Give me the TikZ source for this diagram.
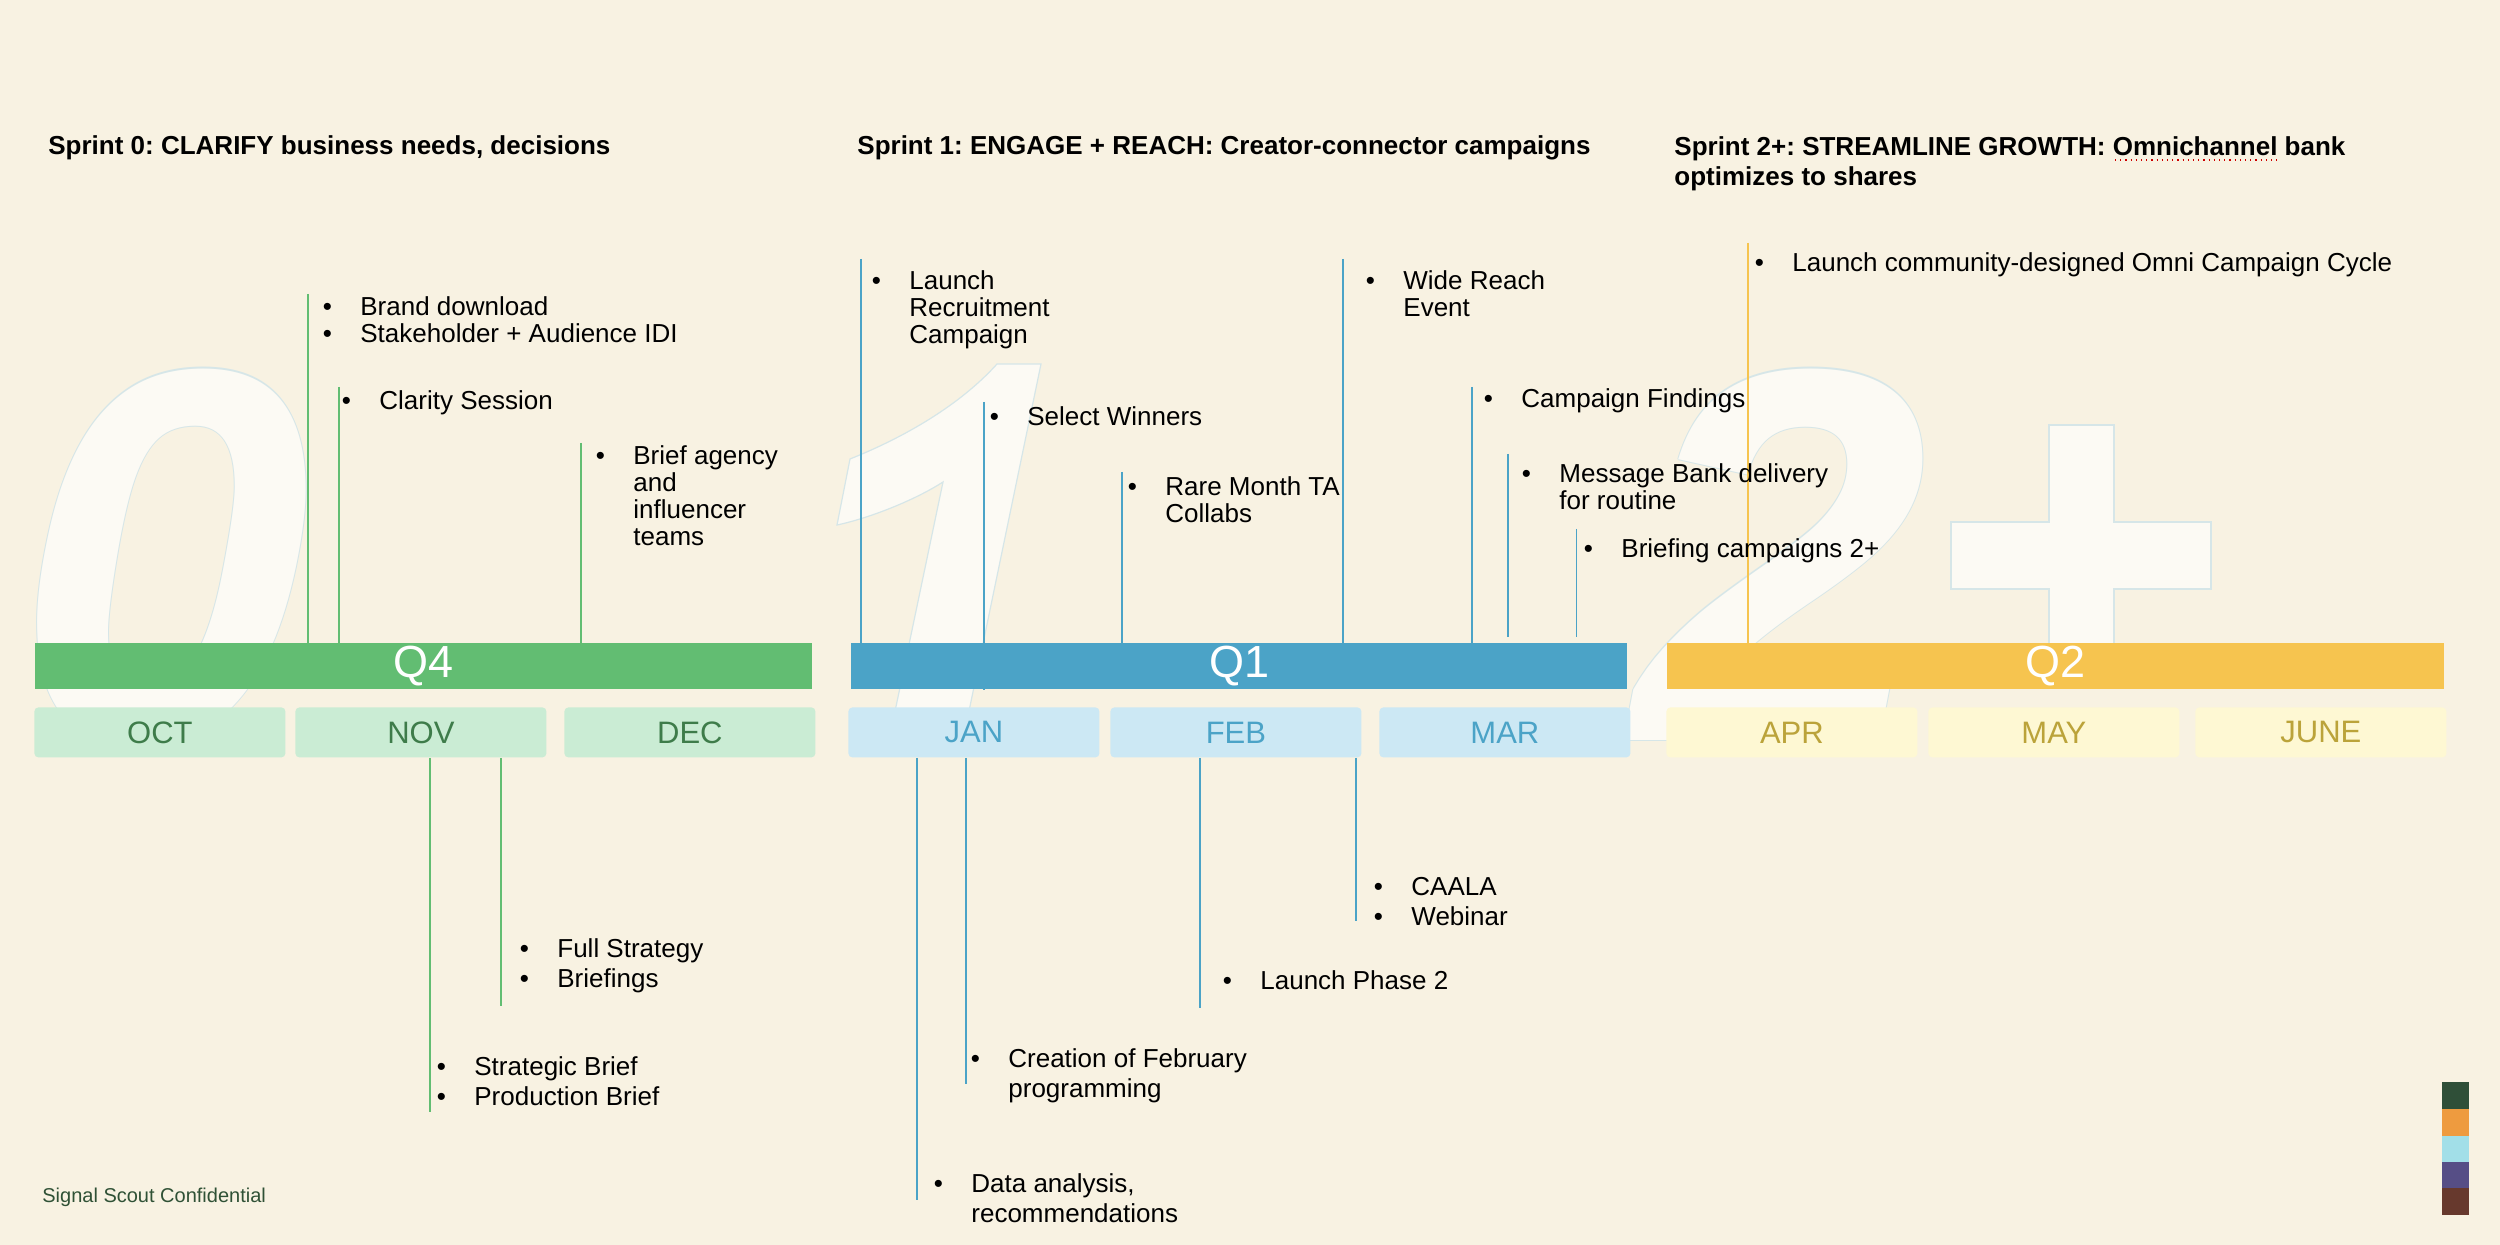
\documentclass[tikz,border=0pt]{standalone}
\usepackage{fontspec}
\setmainfont{Liberation Sans}
\newfontfamily\digitfont{Liberation Sans}
\frenchspacing
\definecolor{bgc}{HTML}{F8F2E2}
\definecolor{q4c}{HTML}{62BD72}
\definecolor{q1c}{HTML}{4BA3C7}
\definecolor{q2c}{HTML}{F6C44F}
\definecolor{m4c}{HTML}{CAECD4}
\definecolor{m4t}{HTML}{3E7C4A}
\definecolor{m1c}{HTML}{CCE8F4}
\definecolor{m1t}{HTML}{4BA3C7}
\definecolor{m2c}{HTML}{FEF8D3}
\definecolor{m2t}{HTML}{BBA33A}
\definecolor{digfill}{HTML}{FCFAF4}
\definecolor{digedge}{HTML}{D6E6E8}
\definecolor{confc}{HTML}{2F5135}
\definecolor{sqa}{HTML}{2F4F38}
\definecolor{sqb}{HTML}{EE9B3F}
\definecolor{sqc}{HTML}{A2DFE8}
\definecolor{sqd}{HTML}{564E86}
\definecolor{sqe}{HTML}{67392D}
\newcommand{\bul}{\llap{\makebox[0pt][c]{•}\hspace{16.5pt}}}
\newcommand{\lines}[1]{\begin{tabular}[t]{@{}l@{}}#1\end{tabular}}
\begin{document}
\begin{tikzpicture}[x=0.5pt,y=-0.5pt,
  qbar/.style={fill=#1, draw=none, text=white, inner sep=0, anchor=north west,
    minimum height=23pt, font=\fontsize{22.5pt}{26pt}\selectfont},
  mbox/.style={fill=#1, draw=none, rounded corners=2pt, inner sep=0, anchor=north west,
    minimum width=125.5pt, minimum height=25pt, font=\fontsize{15.5pt}{18pt}\selectfont},
  conn/.style={draw=#1, line width=0.9pt},
  txt/.style={inner sep=0, anchor=base west, font=\fontsize{13pt}{13.3pt}\selectfont},
  txtlow/.style={inner sep=0, anchor=base west, font=\fontsize{13pt}{15pt}\selectfont},
  ttl/.style={inner sep=0, anchor=base west, font=\bfseries\fontsize{13pt}{15pt}\selectfont},
  digit/.style={inner sep=0, anchor=base west, font=\digitfont\bfseries\itshape\fontsize{266pt}{266pt}\selectfont},
  bigshape/.style={fill=digfill, draw=digedge, line width=0.6pt}]
\useasboundingbox (0,0) rectangle (2500,1245);
\fill[bgc] (0,0) rectangle (2500,1245);

% big background numerals
\foreach \dx/\dy in {1.3/0,-1.3/0,0/1.3,0/-1.3}{
  \node[digit, text=digedge] at (15+\dx,740+\dy) {0};
  \node[digit, text=digedge] at (1632+\dx,740+\dy) {2};
}
\node[digit, text=digfill] (dig0) at (15,740) {0};
\node[digit, text=digfill] (dig2) at (1632,740) {2};
% the "1"
\path[bigshape] (997,364) -- (1041,364) -- (963,740) -- (889,740) -- (943,482)
  .. controls (915,500) and (870,518) .. (837,525) -- (850,459)
  .. controls (905,437) and (960,405) .. cycle;
% the "+"
\path[bigshape]
  (2049,425) -- (2114,425) -- (2114,522) -- (2211,522) -- (2211,589) -- (2114,589)
  -- (2114,660) -- (2049,660) -- (2049,589) -- (1951,589) -- (1951,522) -- (2049,522) -- cycle;

% quarter bars
\node[qbar=q4c, minimum width=388.5pt] (q4) at (35,643) {Q4};
\node[qbar=q1c, minimum width=388pt] (q1) at (851,643) {Q1};
\node[qbar=q2c, minimum width=388.5pt] (q2) at (1667,643) {Q2};

% month boxes
\node[mbox=m4c, text=m4t] (oct) at (34,707) {OCT};
\node[mbox=m4c, text=m4t] (nov) at (295,707) {NOV};
\node[mbox=m4c, text=m4t] (dec) at (564,707) {DEC};
\node[mbox=m1c, text=m1t] (jan) at (848,707) {JAN};
\node[mbox=m1c, text=m1t] (feb) at (1110,707) {FEB};
\node[mbox=m1c, text=m1t] (mar) at (1379,707) {MAR};
\node[mbox=m2c, text=m2t] (apr) at (1666,707) {APR};
\node[mbox=m2c, text=m2t] (may) at (1928,707) {MAY};
\node[mbox=m2c, text=m2t] (jun) at (2195,707) {JUNE};

% upper connectors
\coordinate (u1) at (308,294);
\coordinate (u2) at (339,387);
\coordinate (u3) at (581,443);
\coordinate (u4) at (861,259);
\coordinate (u5) at (984,402);
\coordinate (u6) at (1122,472);
\coordinate (u7) at (1343,259);
\coordinate (u8) at (1472,387);
\coordinate (u9) at (1508,454);
\coordinate (u10) at (1576.5,529);
\coordinate (u11) at (1748,243);
\draw[conn=q4c] (u1) -- (u1 |- q4.north);
\draw[conn=q4c] (u2) -- (u2 |- q4.north);
\draw[conn=q4c] (u3) -- (u3 |- q4.north);
\draw[conn=q1c] (u4) -- (u4 |- q1.north);
\draw[conn=q1c] (u5) -- (u5 |- q1.south);
\draw[conn=q1c] (u6) -- (u6 |- q1.north);
\draw[conn=q1c] (u7) -- (u7 |- q1.north);
\draw[conn=q1c] (u8) -- (u8 |- q1.north);
\draw[conn=q1c] (u9) -- ([yshift=3pt]u9 |- q1.north);
\draw[conn=q1c] (u10) -- ([yshift=3pt]u10 |- q1.north);
\draw[conn=q2c] (u11) -- (u11 |- q2.north);

% lower connectors
\coordinate (d1) at (430,1112);
\coordinate (d2) at (501,1006);
\coordinate (d3) at (917,1200);
\coordinate (d4) at (966,1084);
\coordinate (d5) at (1200,1008);
\coordinate (d6) at (1356,921);
\draw[conn=q4c] (d1 |- nov.south) -- (d1);
\draw[conn=q4c] (d2 |- nov.south) -- (d2);
\draw[conn=q1c] (d3 |- jan.south) -- (d3);
\draw[conn=q1c] (d4 |- jan.south) -- (d4);
\draw[conn=q1c] (d5 |- feb.south) -- (d5);
\draw[conn=q1c] (d6 |- feb.south) -- (d6);

% titles
\node[ttl] (t0) at (48,155) {Sprint 0: CLARIFY business needs, decisions};
\node[ttl] (t1) at (857,155) {Sprint 1: ENGAGE + REACH: Creator-connector campaigns};
\node[ttl] (t2) at (1674,156) {\lines{Sprint 2+: STREAMLINE GROWTH: Omnichannel bank\\optimizes to shares}};
\draw[red!80!black, line width=0.6pt, dotted] (2115,160) -- (2280,160);

% upper texts
\node[txt] (a1) at (360,316) {\lines{\bul Brand download\\\bul Stakeholder + Audience IDI}};
\node[txt] (a2) at (379,410) {\bul Clarity Session};
\node[txt] (a3) at (633,465) {\lines{\bul Brief agency\\and\\influencer\\teams}};
\node[txt] (b1) at (909,290) {\lines{\bul Launch\\Recruitment\\Campaign}};
\node[txt] (b2) at (1027,426) {\bul Select Winners};
\node[txt] (b3) at (1165,496) {\lines{\bul Rare Month TA\\Collabs}};
\node[txt] (b4) at (1403,290) {\lines{\bul Wide Reach\\Event}};
\node[txt] (b5) at (1521,408) {\bul Campaign Findings};
\node[txt] (b6) at (1559,483) {\lines{\bul Message Bank delivery\\for routine}};
\node[txt] (b7) at (1621,558) {\bul Briefing campaigns 2+};
\node[txt] (c1) at (1792,272) {\bul Launch community-designed Omni Campaign Cycle};

% lower texts
\node[txtlow] (e1) at (557,957) {\lines{\bul Full Strategy\\\bul Briefings}};
\node[txtlow] (e2) at (474,1075) {\lines{\bul Strategic Brief\\\bul Production Brief}};
\node[txtlow] (e3) at (1008,1067) {\lines{\bul Creation of February\\programming}};
\node[txtlow] (e4) at (971,1192) {\lines{\bul Data analysis,\\recommendations}};
\node[txtlow] (e5) at (1260,989) {\bul Launch Phase 2};
\node[txtlow] (e6) at (1411,895) {\lines{\bul CAALA\\\bul Webinar}};

% footer
\node[inner sep=0, anchor=base west, text=confc, font=\fontsize{10pt}{12pt}\selectfont] (conf) at (42,1202) {Signal Scout Confidential};
\fill[sqa] (2442,1082) rectangle (2469,1109);
\fill[sqb] (2442,1109) rectangle (2469,1136);
\fill[sqc] (2442,1136) rectangle (2469,1162);
\fill[sqd] (2442,1162) rectangle (2469,1188);
\fill[sqe] (2442,1188) rectangle (2469,1215);
\end{tikzpicture}
\end{document}
